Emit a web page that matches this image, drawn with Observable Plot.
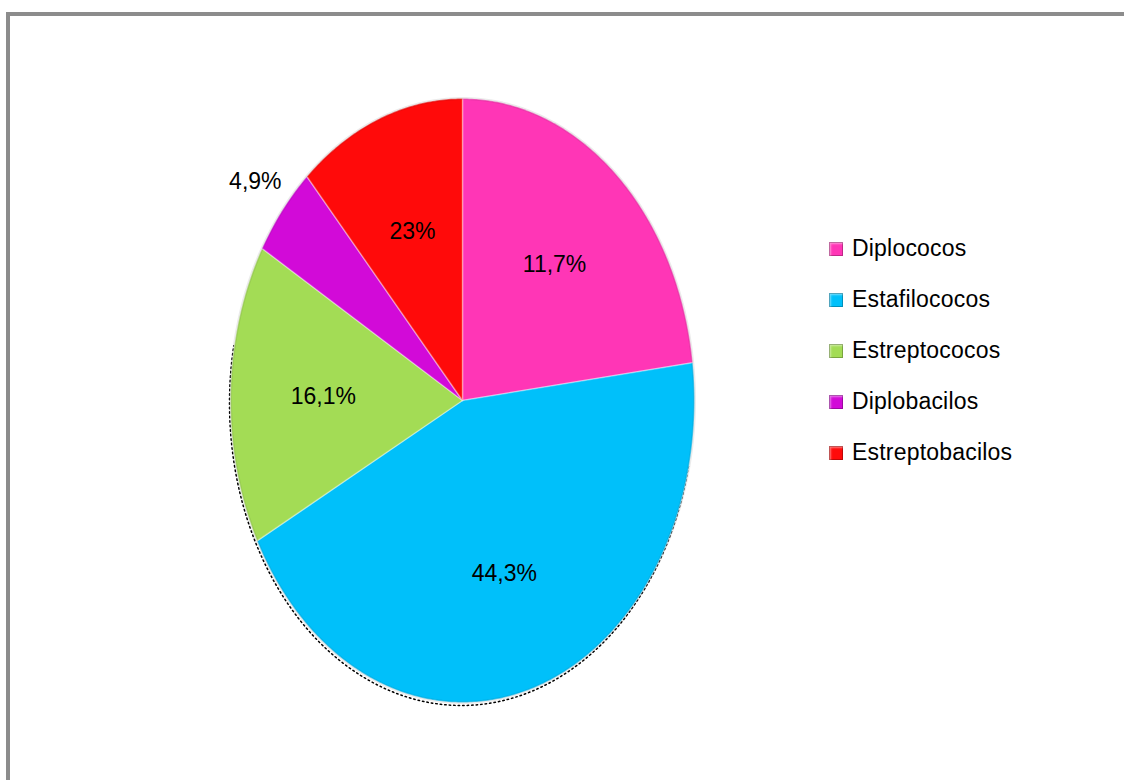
<!DOCTYPE html>
<html>
<head>
<meta charset="utf-8">
<script src="https://cdn.jsdelivr.net/npm/d3@7"></script>
<script src="https://cdn.jsdelivr.net/npm/@observablehq/plot@0.6"></script>
<style>
  html, body { margin: 0; padding: 0; background: #fff; overflow: hidden; }
  #wrap { position: relative; width: 1124px; height: 780px; }
  #frame { position: absolute; left: 6px; top: 12px; width: 1200px; height: 900px;
           border-left: 4px solid #8c8c8c; border-top: 4px solid #8c8c8c; }
  #chart { position: absolute; left: 0; top: 0; }
  #legend { position: absolute; left: 829px; top: 223px; font-family: "Liberation Sans", Arial, sans-serif;
            font-size: 23px; color: #000; }
  .item { display: flex; align-items: center; height: 51px; margin-top: 0; }
  .sw { width: 14px; height: 14px; margin-right: 9px; box-shadow: inset 0 0 0 1px rgba(0,0,0,0.25), inset 2px 2px 2px rgba(255,255,255,0.45); }
  .item span { letter-spacing: 0.2px; }
</style>
</head>
<body>
<div id="wrap">
  <div id="frame"></div>
  <div id="chart"></div>
  <div id="legend"></div>
</div>
<script>
// ---- data ----
const categories = ["Diplococos", "Estafilococos", "Estreptococos", "Diplobacilos", "Estreptobacilos"];
const values = [23, 44.3, 16.1, 4.9, 11.7];
const labels = ["11,7%", "44,3%", "16,1%", "4,9%", "23%"];
const colors = ["#ff36b6", "#00c0fa", "#a3dc55", "#d20ad8", "#ff0a0a"];

// ---- geometry from data (d3.pie angles, clockwise from top) ----
const pie = d3.pie().sort(null).startAngle(0).endAngle(2 * Math.PI)(values);
const slicePts = [];
pie.forEach((p, i) => {
  const n = Math.max(8, Math.ceil((p.endAngle - p.startAngle) / 0.01));
  slicePts.push({cat: categories[i], x: 0, y: 0, k: -1});
  for (let j = 0; j <= n; j++) {
    const a = p.startAngle + (p.endAngle - p.startAngle) * j / n;
    slicePts.push({cat: categories[i], x: Math.sin(a), y: Math.cos(a), k: j});
  }
  slicePts.push({cat: categories[i], x: 0, y: 0, k: n + 1});
});
const labelData = pie.map((p, i) => {
  const a = (p.startAngle + p.endAngle) / 2;
  const r = values[i] < 6 ? 1.15 : 0.6;
  return {label: labels[i], x: r * Math.sin(a), y: r * Math.cos(a)};
});
const outline = d3.range(0, 361, 1).map(d => ({x: Math.sin(d * Math.PI / 180), y: Math.cos(d * Math.PI / 180)}));
const shadow = outline.filter(d => d.y < 0.2 && !(d.x > 0.7 && d.y > -0.2));

const plot = Plot.plot({
  width: 1124,
  height: 780,
  margin: 0,
  x: {domain: [-1, 1], range: [230, 694], axis: null},
  y: {domain: [-1, 1], range: [702, 98], axis: null},
  color: {domain: categories, range: colors},
  style: {background: "transparent", fontFamily: "'Liberation Sans', Arial, sans-serif"},
  marks: [
    Plot.line(shadow, {x: "x", y: "y", stroke: "#000", strokeWidth: 1.5, strokeDasharray: "1.5,3", dy: 3, dx: -1}),
    Plot.line(slicePts, {x: "x", y: "y", z: "cat", fill: "cat", stroke: "#ffffff", strokeOpacity: 0.35, strokeWidth: 1.5, curve: "linear"}),
    Plot.line(outline, {x: "x", y: "y", stroke: "#000", strokeOpacity: 0.08, strokeWidth: 3}),
    Plot.text(labelData, {x: "x", y: "y", text: "label", fontSize: 23, fill: "#000"})
  ]
});
document.getElementById("chart").appendChild(plot);

const legend = document.getElementById("legend");
categories.forEach((c, i) => {
  const item = document.createElement("div");
  item.className = "item";
  const sw = document.createElement("div");
  sw.className = "sw";
  sw.style.background = colors[i];
  const sp = document.createElement("span");
  sp.textContent = c;
  item.appendChild(sw);
  item.appendChild(sp);
  legend.appendChild(item);
});
</script>
</body>
</html>
